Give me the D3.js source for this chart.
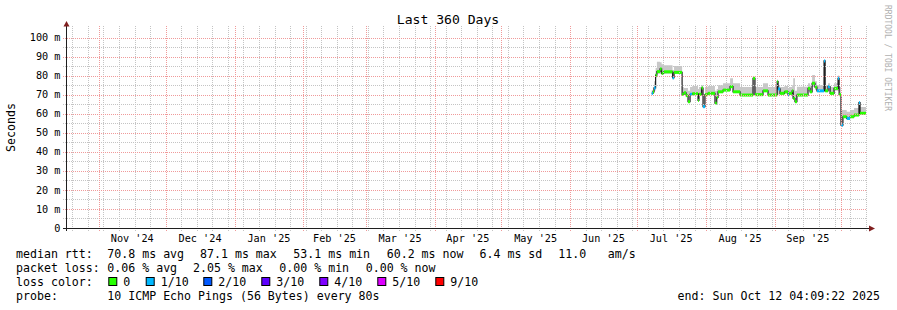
<!DOCTYPE html>
<html>
<head>
<meta charset="utf-8">
<script src="https://cdn.jsdelivr.net/npm/d3@7"></script>
<style>
  body { margin: 0; background: #fff; }
  text { font-family: "DejaVu Sans Mono", monospace; white-space: pre; }
</style>
</head>
<body>
<svg id="chart" width="897" height="310"></svg>
<script>
'use strict';

// time window of the graph (360 days ending at the probe time)
const endTime = new Date(Date.UTC(2025, 9, 12, 4, 9, 22));
const startTime = new Date(endTime.getTime() - 360 * 864e5);

// sample start times, each one lasts until the next
const sampleTimes = [
  "2025-07-07T18:00", "2025-07-08T07:00", "2025-07-08T19:00", "2025-07-09T12:00",
  "2025-07-10T02:00", "2025-07-11T12:00", "2025-07-12T05:00", "2025-07-13T02:00",
  "2025-07-17T03:00", "2025-07-17T19:00", "2025-07-21T10:00", "2025-07-22T05:00",
  "2025-07-23T05:00", "2025-07-24T02:00", "2025-07-25T00:00", "2025-07-26T00:00",
  "2025-07-28T14:00", "2025-07-29T00:00", "2025-07-30T04:00", "2025-07-30T20:00",
  "2025-07-31T17:00", "2025-08-02T00:00", "2025-08-05T05:00", "2025-08-06T00:00",
  "2025-08-06T14:00", "2025-08-08T20:00", "2025-08-12T00:00", "2025-08-13T08:00",
  "2025-08-16T12:00", "2025-08-22T08:00", "2025-08-23T05:00", "2025-08-26T20:00",
  "2025-08-29T02:00", "2025-09-02T05:00", "2025-09-02T15:00", "2025-09-03T12:00",
  "2025-09-05T12:00", "2025-09-07T02:00", "2025-09-07T12:00", "2025-09-08T22:00",
  "2025-09-09T10:00", "2025-09-10T05:00", "2025-09-11T02:00", "2025-09-16T02:00",
  "2025-09-17T00:00", "2025-09-17T22:00", "2025-09-19T05:00", "2025-09-20T02:00",
  "2025-09-23T07:00", "2025-09-23T19:00", "2025-09-25T02:00", "2025-09-26T00:00",
  "2025-09-27T19:00", "2025-09-29T14:00", "2025-09-30T02:00", "2025-09-30T22:00",
  "2025-10-01T19:00", "2025-10-03T12:00", "2025-10-05T00:00", "2025-10-06T19:00",
  "2025-10-09T00:00", "2025-10-09T12:00"
];

// median rtt in ms
const medianMs = [
  70.7, 71.5, 73.5, 80.3, 82.1, 83.5, 81.2, 82.0,
  78.9, 81.7, 70.2, 71.0, 69.5, 66.3, 70.2, 70.5,
  67.0, 70.2, 73.5, 63.7, 70.0, 70.7, 65.5, 68.5,
  71.5, 72.4, 74.2, 71.5, 69.8, 78.6, 70.0, 72.0,
  69.8, 76.8, 73.0, 70.7, 71.5, 70.0, 70.7, 72.0,
  68.0, 66.3, 69.8, 73.3, 71.5, 76.0, 74.0, 72.0,
  87.7, 72.0, 74.2, 70.7, 73.3, 78.6, 70.0, 54.0,
  58.4, 57.5, 58.4, 59.3, 65.8, 60.2
];

// top of the smoke (slowest ping) in ms
const smokeHiMs = [
  72.5, 74.0, 77.0, 84.0, 87.3, 87.0, 86.0, 85.5,
  83.0, 85.0, 74.0, 73.5, 73.5, 72.0, 74.0, 74.5,
  73.0, 74.0, 75.0, 70.0, 74.0, 74.5, 72.0, 73.0,
  75.0, 76.0, 78.6, 76.0, 74.0, 79.0, 74.0, 76.0,
  74.0, 78.0, 75.0, 74.0, 74.5, 73.5, 74.0, 75.0,
  78.6, 72.0, 74.2, 76.0, 75.0, 80.3, 77.0, 75.0,
  88.0, 75.0, 76.0, 74.0, 76.0, 80.0, 74.0, 62.0,
  62.0, 61.0, 62.0, 63.0, 66.0, 63.5
];

// bottom of the smoke (fastest ping) in ms
const smokeLoMs = [
  70.0, 70.5, 72.0, 79.0, 81.0, 81.0, 80.5, 81.0,
  78.0, 81.0, 69.5, 70.0, 69.0, 66.0, 69.5, 70.0,
  66.5, 69.5, 70.0, 63.0, 69.5, 70.0, 65.0, 68.0,
  71.0, 72.0, 73.5, 71.0, 69.3, 70.0, 69.5, 71.5,
  69.3, 70.0, 70.0, 70.0, 70.5, 69.5, 70.0, 68.0,
  67.5, 66.0, 69.3, 72.0, 71.0, 74.0, 72.5, 71.5,
  72.0, 71.5, 72.0, 70.0, 72.0, 72.0, 69.5, 53.1,
  58.0, 57.0, 58.0, 59.0, 59.0, 59.8
];

// lost pings out of 10
const lossCount = [
  1, 0, 1, 0, 0, 0, 0, 0,
  1, 0, 0, 0, 0, 0, 1, 0,
  0, 0, 0, 1, 0, 0, 0, 0,
  0, 0, 0, 0, 0, 0, 0, 0,
  0, 0, 1, 0, 0, 1, 0, 0,
  0, 0, 0, 0, 0, 0, 0, 1,
  1, 0, 1, 0, 0, 1, 0, 1,
  0, 1, 0, 0, 1, 0
];

const yMajorTicks = [0, 10, 20, 30, 40, 50, 60, 70, 80, 90, 100];
const yMinorTicks = [5, 15, 25, 35, 45, 55, 65, 75, 85, 95];

const lossLevels = [0, 1, 2, 3, 4, 5, 9];
const lossLabels = ["0", "1/10", "2/10", "3/10", "4/10", "5/10", "9/10"];
const lossColors = ["#26ff00", "#00b8ff", "#0059ff", "#5e00ff", "#7e00ff", "#dd00ff", "#ff0000"];

const rttLegend = ["70.8 ms avg", "87.1 ms max", "53.1 ms min", "60.2 ms now", "6.4 ms sd", "11.0", "am/s"];
const lossLegend = ["0.06 % avg", "2.05 % max", "0.00 % min", "0.00 % now"];

// legend column positions (layout only)
const rttCols = [107.3, 200, 293.3, 386.7, 479.5, 558.3, 607.7];
const lossCols = [107.3, 193, 279.3, 365.7];
const swatchCols = [108.3, 145.7, 203.3, 261.3, 319.3, 377.3, 435.3];

const svg = d3.select("#chart");

// plot area 800 x 200
var x = d3.scaleUtc().domain([startTime, endTime]).range([66, 866]);
var y = d3.scaleLinear().domain([0, 105]).range([228, 28]);

const parse = d3.utcParse("%Y-%m-%dT%H:%M");
const rows = sampleTimes.map(function(t, i) {
  return { t: parse(t), med: medianMs[i], hi: smokeHiMs[i], lo: smokeLoMs[i], loss: lossCount[i] };
});
// closing point so the last step runs to the end
const stepRows = rows.concat([Object.assign({}, rows[rows.length - 1], { t: endTime })]);

svg.append("rect").attr("width", 897).attr("height", 310).attr("fill", "#fff");

// ****************** smoke + median ***************************

svg.append("path")
  .datum(stepRows)
  .attr("fill", "#c8c8c8")
  .attr("d", d3.area().curve(d3.curveStepAfter)
    .x(function(d) { return x(d.t); })
    .y0(function(d) { return y(d.lo); })
    .y1(function(d) { return y(d.hi); }));

svg.append("path")
  .datum(stepRows)
  .attr("fill", "none")
  .attr("stroke", "#202020")
  .attr("stroke-width", 1.2)
  .attr("d", d3.line().curve(d3.curveStepAfter)
    .x(function(d) { return x(d.t); })
    .y(function(d) { return y(d.med); }));

// loss coloured median bands
svg.append("g").selectAll("rect")
  .data(rows)
  .join("rect")
  .attr("x", function(d) { return x(d.t); })
  .attr("width", function(d, i) { return x(stepRows[i + 1].t) - x(d.t); })
  .attr("y", function(d) { return y(d.med) - 1.5; })
  .attr("height", 3)
  .attr("fill", function(d) { return lossColors[lossLevels.indexOf(d.loss)]; });

// ****************** grid ***************************

const weeks = d3.utcSunday.range(startTime, endTime);
const months = d3.utcMonth.range(d3.utcMonth.ceil(startTime), endTime);
const grid = svg.append("g")
  .attr("stroke-dasharray", "1,1")
  .attr("stroke-width", 1)
  .attr("shape-rendering", "crispEdges");

function vx(d) { return Math.round(x(d)) + 0.5; }
function hy(d) { return Math.round(y(d)) + 0.5; }

grid.selectAll("line.wk").data(weeks).join("line")
  .attr("class", "wk")
  .attr("x1", vx).attr("x2", vx)
  .attr("y1", 231).attr("y2", 26)
  .attr("stroke", "#c4c4c4");

grid.selectAll("line.ymin").data(yMinorTicks).join("line")
  .attr("class", "ymin")
  .attr("x1", 63).attr("x2", 866)
  .attr("y1", hy).attr("y2", hy)
  .attr("stroke", "#c4c4c4");

grid.selectAll("line.mo").data(months).join("line")
  .attr("class", "mo")
  .attr("x1", vx).attr("x2", vx)
  .attr("y1", 231).attr("y2", 26)
  .attr("stroke", "#f09a9a");

grid.selectAll("line.ymaj").data(yMajorTicks.slice(1)).join("line")
  .attr("class", "ymaj")
  .attr("x1", 63).attr("x2", 866)
  .attr("y1", hy).attr("y2", hy)
  .attr("stroke", "#f09a9a");

// ****************** axes ***************************

svg.append("line").attr("x1", 66.5).attr("x2", 66.5).attr("y1", 231).attr("y2", 25)
  .attr("stroke", "#1f1f1f");
svg.append("line").attr("x1", 63).attr("x2", 870).attr("y1", 228.5).attr("y2", 228.5)
  .attr("stroke", "#1f1f1f");
svg.append("path").attr("d", "M66.5,21 L63.5,26.5 L69.5,26.5 Z").attr("fill", "#801f1f");
svg.append("path").attr("d", "M875,228.5 L869,225.5 L869,231.5 Z").attr("fill", "#801f1f");

svg.append("g").selectAll("text").data(yMajorTicks).join("text")
  .attr("x", 60.5)
  .attr("y", function(d) { return y(d) + 3.6; })
  .attr("text-anchor", "end")
  .attr("font-size", "10.2px")
  .attr("fill", "#000")
  .text(function(d) { return d === 0 ? "0" : d + " m"; });

const monthFmt = d3.utcFormat("%b '%y");
svg.append("g").selectAll("text")
  .data(months.filter(function(m) { return d3.utcMonth.offset(m, 1) <= endTime; }))
  .join("text")
  .attr("x", function(d) { return (x(d) + x(d3.utcMonth.offset(d, 1))) / 2; })
  .attr("y", 241.8)
  .attr("text-anchor", "middle")
  .attr("font-size", "10.2px")
  .attr("fill", "#000")
  .text(monthFmt);

// ****************** titles ***************************

svg.append("text").attr("x", 448).attr("y", 24).attr("text-anchor", "middle")
  .attr("font-size", "13.1px").attr("fill", "#000").text("Last 360 Days");

svg.append("text").attr("transform", "translate(15,127.5) rotate(-90)")
  .attr("text-anchor", "middle").attr("font-size", "11.6px").attr("fill", "#000")
  .text("Seconds");

svg.append("text").attr("transform", "translate(885,5) rotate(90)")
  .attr("font-size", "8px").attr("fill", "#b0b0b0")
  .text("RRDTOOL / TOBI OETIKER");

// ****************** legend ***************************

const legend = svg.append("g").attr("font-size", "11.6px").attr("fill", "#000");

legend.append("text").attr("x", 16).attr("y", 258.3).text("median rtt:");
legend.selectAll("text.rtt").data(rttLegend).join("text").attr("class", "rtt")
  .attr("x", function(d, i) { return rttCols[i]; }).attr("y", 258.3).text(function(d) { return d; });

legend.append("text").attr("x", 16).attr("y", 272).text("packet loss:");
legend.selectAll("text.pl").data(lossLegend).join("text").attr("class", "pl")
  .attr("x", function(d, i) { return lossCols[i]; }).attr("y", 272).text(function(d) { return d; });

legend.append("text").attr("x", 16).attr("y", 286).text("loss color:");
legend.selectAll("rect.sw").data(lossColors).join("rect").attr("class", "sw")
  .attr("x", function(d, i) { return swatchCols[i] + 0.5; }).attr("y", 277.5)
  .attr("width", 8).attr("height", 8)
  .attr("fill", function(d) { return d; })
  .attr("stroke", "#000").attr("stroke-width", 1);
legend.selectAll("text.lc").data(lossLabels).join("text").attr("class", "lc")
  .attr("x", function(d, i) { return swatchCols[i] + 15; }).attr("y", 286).text(function(d) { return d; });

legend.append("text").attr("x", 16).attr("y", 300).text("probe:");
legend.append("text").attr("x", 107.3).attr("y", 300).text("10 ICMP Echo Pings (56 Bytes) every 80s");
legend.append("text").attr("x", 880).attr("y", 300).attr("text-anchor", "end")
  .text("end: Sun Oct 12 04:09:22 2025");
</script>
</body>
</html>
